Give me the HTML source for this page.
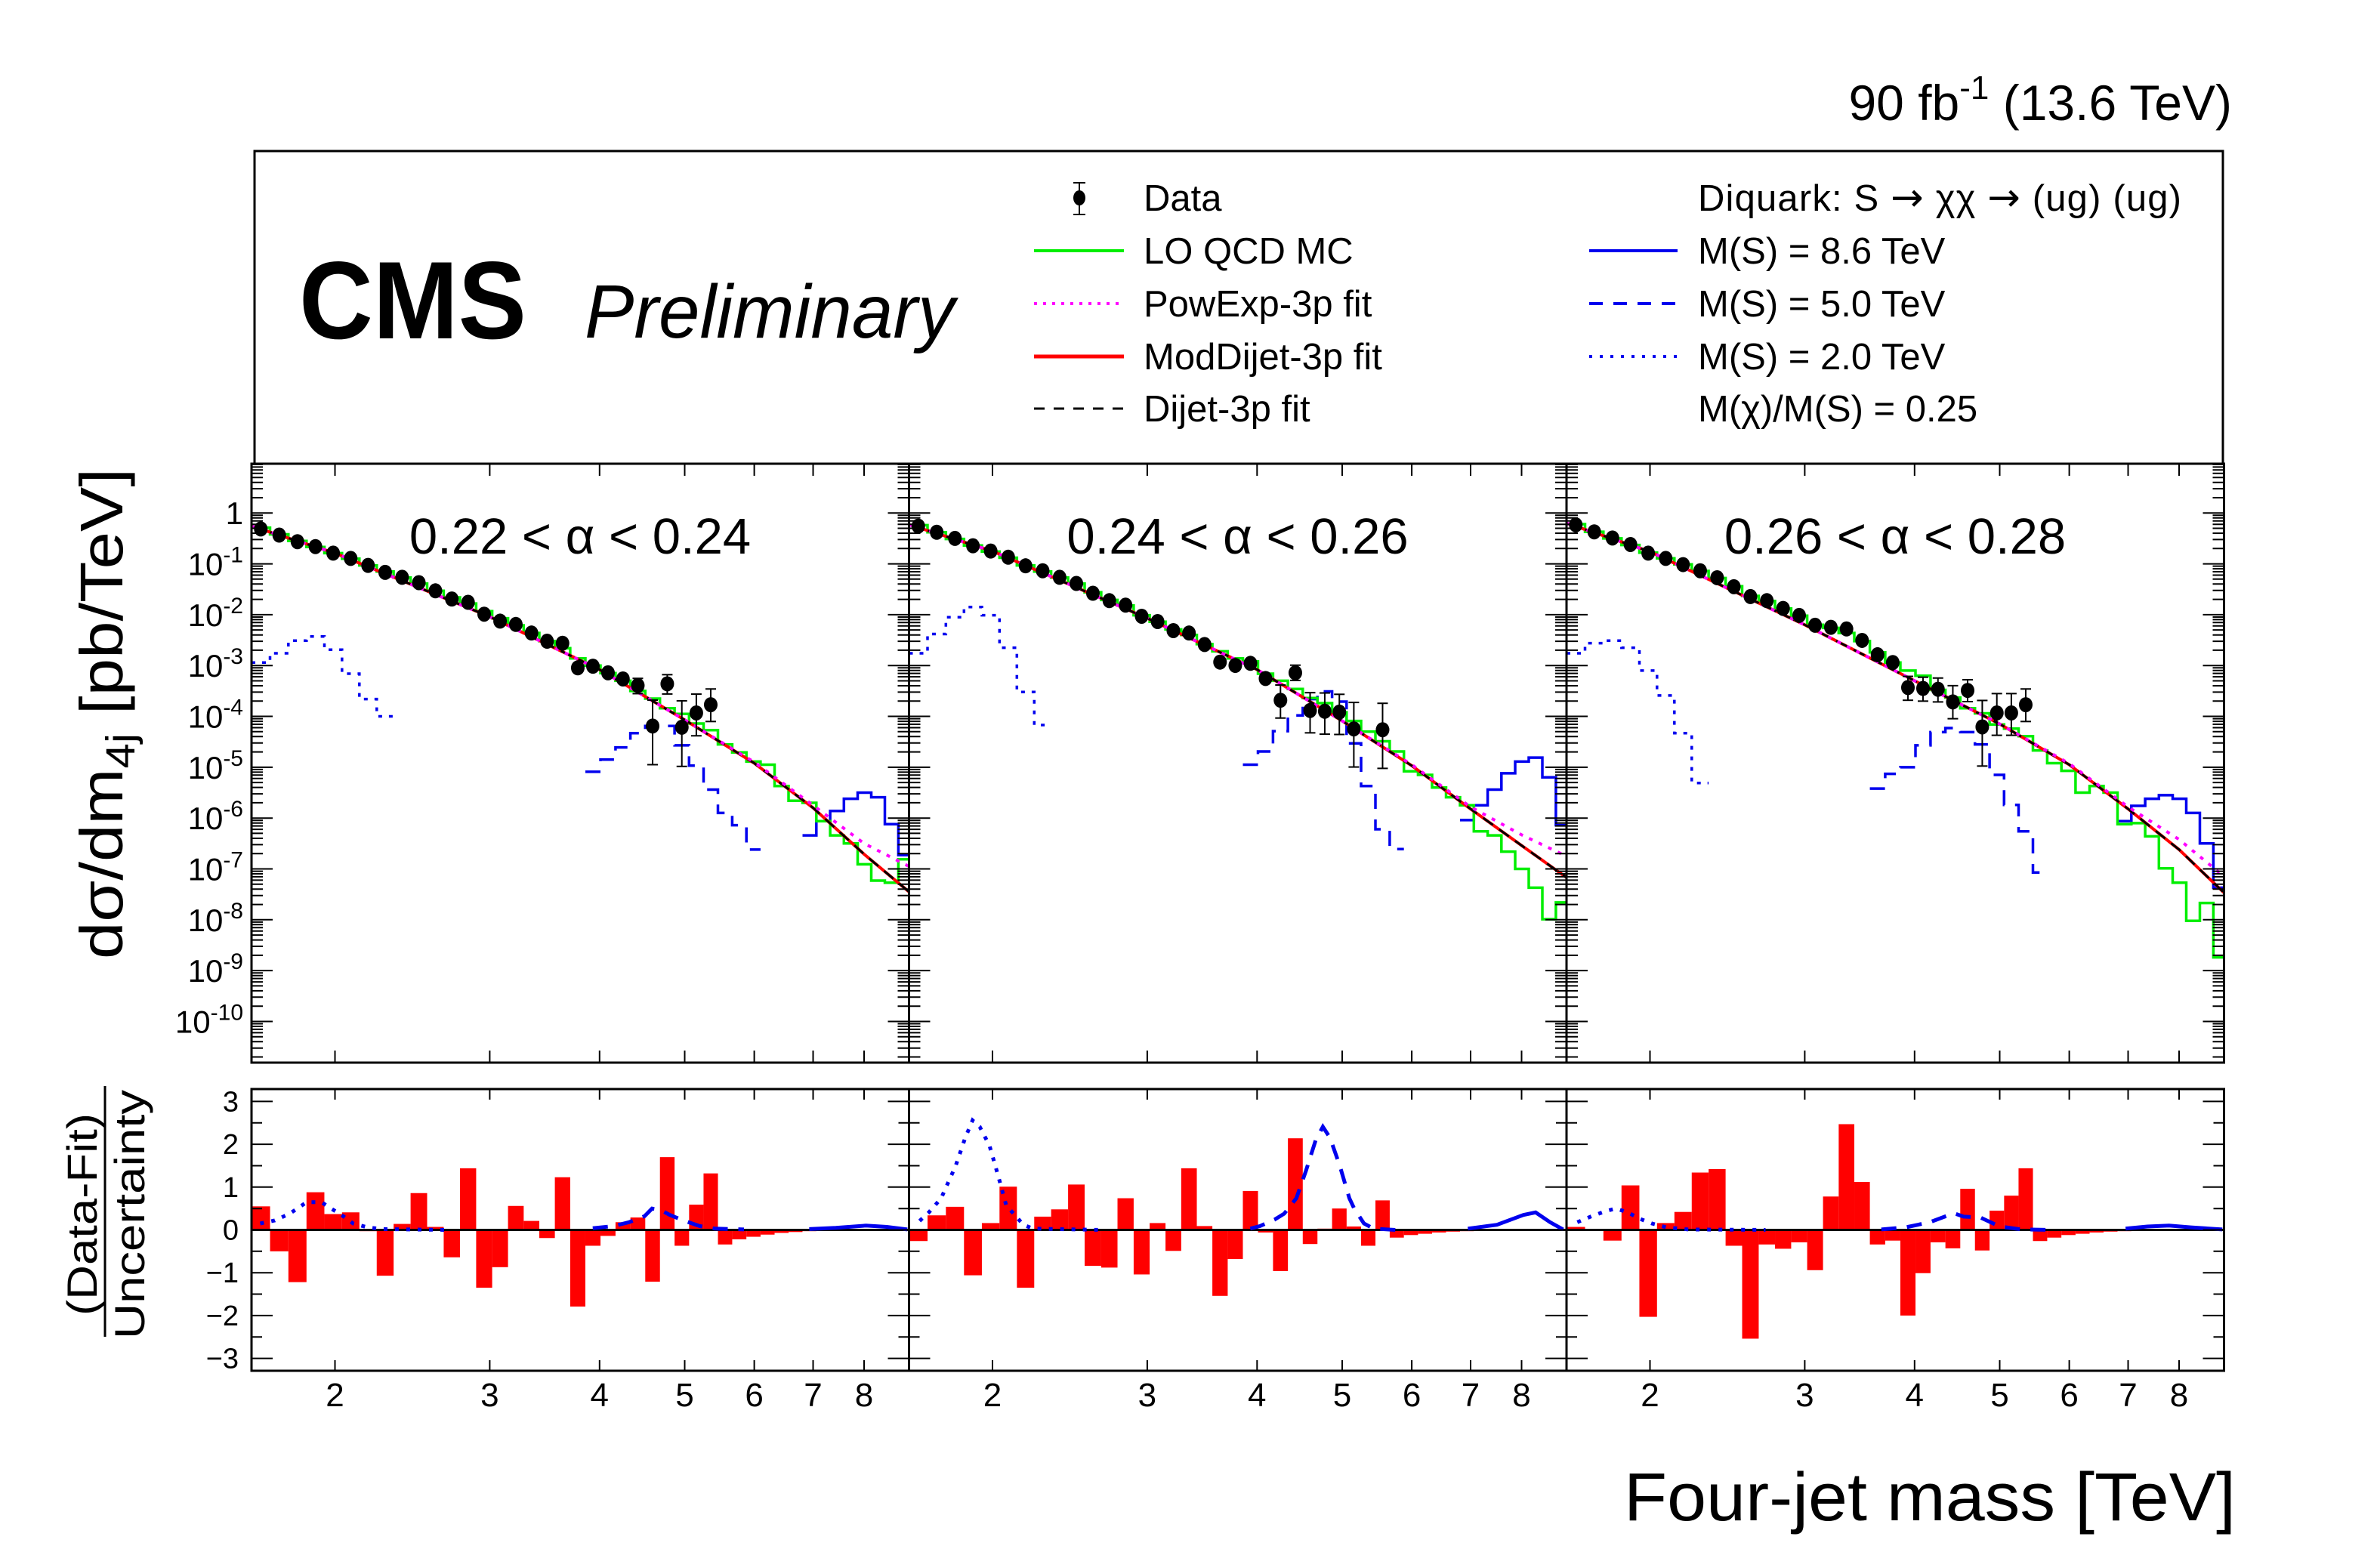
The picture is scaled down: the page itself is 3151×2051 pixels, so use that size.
<!DOCTYPE html>
<html><head><meta charset="utf-8"><title>CMS four-jet mass</title>
<style>
html,body{margin:0;padding:0;background:#fff;}
svg{display:block;font-family:"Liberation Sans",Arial,sans-serif;}
</style></head>
<body>
<svg id="chart" xmlns="http://www.w3.org/2000/svg" width="3151" height="2051" viewBox="0 0 3151 2051">
<rect x="0" y="0" width="3151" height="2051" fill="#fff"/>
<text x="2955" y="159" font-size="66" text-anchor="end">90 fb<tspan dy="-28" font-size="44">-1</tspan><tspan dy="28"> (13.6 TeV)</tspan></text>
<rect x="337" y="200" width="2606" height="414" fill="none" stroke="#000" stroke-width="3"/>
<text x="396" y="448" font-size="146" font-weight="bold" textLength="301" lengthAdjust="spacingAndGlyphs">CMS</text>
<text x="774" y="447" font-size="100" font-style="italic" textLength="490" lengthAdjust="spacingAndGlyphs">Preliminary</text>
<g font-size="49">
  <g>
    <line x1="1429" y1="242" x2="1429" y2="284" stroke="#000" stroke-width="2"/>
    <line x1="1421" y1="242" x2="1437" y2="242" stroke="#000" stroke-width="2"/>
    <line x1="1421" y1="284" x2="1437" y2="284" stroke="#000" stroke-width="2"/>
    <ellipse cx="1429" cy="262" rx="8" ry="10" fill="#000"/>
    <text x="1514" y="279">Data</text>
  </g>
  <g>
    <line x1="1369" y1="332" x2="1488" y2="332" stroke="#00ee00" stroke-width="4"/>
    <text x="1514" y="349">LO QCD MC</text>
  </g>
  <g>
    <line x1="1369" y1="402" x2="1488" y2="402" stroke="#ff00ff" stroke-width="4" stroke-dasharray="4 8"/>
    <text x="1514" y="419">PowExp-3p fit</text>
  </g>
  <g>
    <line x1="1369" y1="472" x2="1488" y2="472" stroke="#ff0000" stroke-width="5"/>
    <text x="1514" y="489">ModDijet-3p fit</text>
  </g>
  <g>
    <line x1="1369" y1="541" x2="1488" y2="541" stroke="#000" stroke-width="3" stroke-dasharray="14 12"/>
    <text x="1514" y="558">Dijet-3p fit</text>
  </g>
</g>
<g font-size="49">
  <text x="2248" y="279" textLength="640" lengthAdjust="spacing">Diquark: S <tspan font-family="DejaVu Sans" font-size="52">→</tspan> χχ <tspan font-family="DejaVu Sans" font-size="52">→</tspan> (ug) (ug)</text>
  <g>
    <line x1="2104" y1="332" x2="2221" y2="332" stroke="#0000ee" stroke-width="4"/>
    <text x="2248" y="349">M(S) = 8.6 TeV</text>
  </g>
  <g>
    <line x1="2104" y1="402" x2="2221" y2="402" stroke="#0000ee" stroke-width="4" stroke-dasharray="18 14"/>
    <text x="2248" y="419">M(S) = 5.0 TeV</text>
  </g>
  <g>
    <line x1="2104" y1="472" x2="2221" y2="472" stroke="#0000ee" stroke-width="4" stroke-dasharray="4 10"/>
    <text x="2248" y="489">M(S) = 2.0 TeV</text>
  </g>
  <text x="2248" y="558">M(χ)/M(S) = 0.25</text>
</g>
<text transform="translate(162,945) rotate(-90)" font-size="80" text-anchor="middle" textLength="650" lengthAdjust="spacingAndGlyphs">dσ/dm<tspan dy="16" font-size="54">4j</tspan><tspan dy="-16"> [pb/TeV]</tspan></text>
<g font-size="56">
  <text transform="translate(128,1608) rotate(-90)" text-anchor="middle" textLength="268" lengthAdjust="spacingAndGlyphs">(Data-Fit)</text>
  <line x1="139" y1="1438" x2="139" y2="1770" stroke="#000" stroke-width="3"/>
  <text transform="translate(191,1608) rotate(-90)" text-anchor="middle" textLength="330" lengthAdjust="spacingAndGlyphs">Uncertainty</text>
</g>
<text x="2150" y="2013" font-size="90" textLength="810" lengthAdjust="spacingAndGlyphs">Four-jet mass [TeV]</text>
<g id="plots"></g>
</svg>
<script>
// ---- binning (TeV) ----
const binEdges = [1.607,1.687,1.770,1.856,1.945,2.037,2.132,2.231,2.332,2.438,2.546,2.659,2.775,2.895,3.019,3.147,3.279,3.416,3.558,3.704,3.854,4.010,4.171,4.337,4.509,4.686,4.869,5.058,5.253,5.455,5.663,5.877,6.099,6.328,6.564,6.808,7.060,7.320,7.589,7.866,8.152,8.447,8.752,9.067];
const panelTitles = ["0.22 < α < 0.24","0.24 < α < 0.26","0.26 < α < 0.28"];
const xTickValues = [2,3,4,5,6,7,8];
const xTickLabels = ["2","3","4","5","6","7","8"];
const yDecades = [0,-1,-2,-3,-4,-5,-6,-7,-8,-9,-10];
const ratioTicks = [3,2,1,0,-1,-2,-3];
const ratioTickLabels = ["3","2","1","0","−1","−2","−3"];
// ---- data (log10 pb/TeV) ----
const p1DataBins = [1,2,3,4,5,6,7,8,9,10,11,12,13,14,15,16,17,18,19,20,21,22,23,24,25,26,27,28,29];
const p1Data = [-0.314,-0.435,-0.564,-0.661,-0.790,-0.894,-1.031,-1.168,-1.265,-1.370,-1.531,-1.692,-1.757,-1.990,-2.127,-2.192,-2.361,-2.522,-2.562,-3.046,-3.014,-3.143,-3.264,-3.393,-4.190,-3.360,-4.214,-3.932,-3.771];
const p1ErrUp = [0.01,0.01,0.01,0.01,0.01,0.01,0.01,0.01,0.01,0.01,0.01,0.01,0.01,0.01,0.01,0.01,0.02,0.02,0.03,0.08,0.08,0.09,0.11,0.14,0.51,0.18,0.52,0.37,0.31];
const p1ErrDn = [0.01,0.01,0.01,0.01,0.01,0.01,0.01,0.01,0.01,0.01,0.01,0.01,0.01,0.01,0.01,0.01,0.02,0.02,0.03,0.09,0.09,0.10,0.12,0.16,0.76,0.20,0.77,0.45,0.33];
const p2DataBins = [1,2,3,4,5,6,7,8,9,10,11,12,13,14,15,16,17,18,19,20,21,22,23,24,25,26,27,28,30];
const p2Data = [-0.258,-0.379,-0.500,-0.645,-0.749,-0.870,-1.039,-1.136,-1.265,-1.386,-1.579,-1.724,-1.813,-2.031,-2.135,-2.313,-2.361,-2.587,-2.933,-2.998,-2.957,-3.255,-3.683,-3.143,-3.884,-3.900,-3.916,-4.246,-4.263];
const p2ErrUp = [0.01,0.01,0.01,0.01,0.01,0.01,0.01,0.01,0.01,0.01,0.01,0.01,0.01,0.01,0.01,0.01,0.02,0.02,0.05,0.06,0.07,0.09,0.30,0.15,0.35,0.36,0.35,0.52,0.52];
const p2ErrDn = [0.01,0.01,0.01,0.01,0.01,0.01,0.01,0.01,0.01,0.01,0.01,0.01,0.01,0.01,0.01,0.01,0.02,0.02,0.05,0.06,0.07,0.10,0.35,0.15,0.44,0.45,0.44,0.75,0.76];
const p3DataBins = [1,2,3,4,5,6,7,8,9,10,11,12,13,14,15,16,17,18,19,20,21,22,23,24,25,26,27,28,29];
const p3Data = [-0.234,-0.371,-0.492,-0.620,-0.790,-0.894,-1.015,-1.136,-1.273,-1.450,-1.644,-1.724,-1.877,-2.015,-2.208,-2.248,-2.281,-2.506,-2.788,-2.941,-3.433,-3.450,-3.466,-3.716,-3.490,-4.207,-3.932,-3.932,-3.771];
const p3ErrUp = [0.01,0.01,0.01,0.01,0.01,0.01,0.01,0.01,0.01,0.01,0.01,0.01,0.01,0.01,0.01,0.01,0.02,0.02,0.04,0.05,0.22,0.22,0.22,0.32,0.21,0.52,0.38,0.38,0.31];
const p3ErrDn = [0.01,0.01,0.01,0.01,0.01,0.01,0.01,0.01,0.01,0.01,0.01,0.01,0.01,0.01,0.01,0.01,0.02,0.02,0.04,0.05,0.25,0.25,0.25,0.33,0.22,0.77,0.44,0.44,0.33];
// ---- LO QCD MC (per bin, log10) ----
const p1Qcd = [-0.29,-0.42,-0.55,-0.67,-0.79,-0.90,-1.03,-1.15,-1.27,-1.39,-1.53,-1.66,-1.78,-1.93,-2.07,-2.21,-2.36,-2.52,-2.66,-2.86,-3.00,-3.15,-3.30,-3.50,-3.65,-3.84,-3.95,-4.14,-4.27,-4.55,-4.71,-4.89,-4.95,-5.37,-5.66,-5.70,-6.06,-6.34,-6.50,-6.91,-7.23,-7.27,-6.81];
const p2Qcd = [-0.24,-0.38,-0.51,-0.64,-0.76,-0.88,-1.03,-1.15,-1.27,-1.39,-1.56,-1.71,-1.82,-2.01,-2.14,-2.29,-2.40,-2.58,-2.72,-2.86,-2.92,-3.16,-3.30,-3.46,-3.64,-3.74,-3.92,-4.09,-4.30,-4.49,-4.69,-5.08,-5.15,-5.40,-5.59,-5.75,-6.26,-6.34,-6.66,-7.00,-7.37,-7.99,-7.66];
const p3Qcd = [-0.22,-0.37,-0.50,-0.63,-0.78,-0.89,-1.01,-1.14,-1.28,-1.44,-1.63,-1.73,-1.88,-2.02,-2.20,-2.26,-2.36,-2.52,-2.74,-2.94,-3.10,-3.20,-3.48,-3.63,-3.84,-3.94,-4.16,-4.24,-4.39,-4.67,-4.92,-5.07,-5.50,-5.37,-5.50,-6.12,-6.10,-6.36,-6.99,-7.27,-8.02,-7.67,-8.74];
// ---- fits ----
const fitMass = [1.607,2,3,4,5,6,7,8,9];
const p1ModDijet = [-0.26,-0.79,-2.04,-3.08,-4.07,-4.92,-5.80,-6.71,-7.45];
const p1PowExp = [-0.26,-0.79,-2.04,-3.08,-4.07,-4.90,-5.75,-6.50,-6.95];
const p2ModDijet = [-0.23,-0.75,-2.07,-3.08,-4.09,-4.97,-5.82,-6.54,-7.17];
const p2PowExp = [-0.23,-0.75,-2.07,-3.08,-4.09,-4.95,-5.78,-6.33,-6.75];
const p3ModDijet = [-0.20,-0.76,-2.20,-3.30,-4.15,-4.95,-5.82,-6.62,-7.47];
const p3PowExp = [-0.20,-0.76,-2.20,-3.30,-4.15,-4.93,-5.78,-6.42,-7.15];
// ---- signals (start bin + per-bin log10) ----
const p1Sig2Start = 1, p1Sig2 = [-2.94,-2.76,-2.51,-2.43,-2.69,-3.16,-3.66,-4.00];
const p1Sig5Start = 21, p1Sig5 = [-5.09,-4.85,-4.61,-4.33,-4.19,-4.19,-4.57,-4.97,-5.44,-5.90,-6.14,-6.62];
const p1Sig86Start = 36, p1Sig86 = [-6.34,-6.06,-5.86,-5.62,-5.50,-5.59,-6.12,-6.73];
const p2Sig2Start = 1, p2Sig2 = [-2.76,-2.38,-2.05,-1.85,-2.01,-2.65,-3.52,-4.17];
const p2Sig5Start = 21, p2Sig5 = [-4.95,-4.69,-4.29,-3.98,-3.66,-3.51,-3.71,-4.53,-5.37,-6.22,-6.61];
const p2Sig86Start = 36, p2Sig86 = [-6.04,-5.75,-5.44,-5.12,-4.89,-4.81,-5.20,-6.14];
const p3Sig2Start = 1, p3Sig2 = [-2.76,-2.56,-2.51,-2.65,-3.10,-3.59,-4.33,-5.31];
const p3Sig5Start = 19, p3Sig5 = [-5.42,-5.13,-5.00,-4.57,-4.31,-4.23,-4.31,-4.55,-5.15,-5.74,-6.26,-7.07];
const p3Sig86Start = 36, p3Sig86 = [-6.06,-5.76,-5.62,-5.55,-5.62,-5.90,-6.50,-7.37];
// ---- pulls ----
const p1Pull = [0.55,-0.50,-1.22,0.88,0.37,0.41,-0.03,-1.07,0.14,0.86,0.07,-0.64,1.44,-1.35,-0.87,0.56,0.21,-0.19,1.23,-1.79,-0.37,-0.14,0.18,0.29,-1.21,1.70,-0.37,0.59,1.32,-0.34,-0.22,-0.16,-0.11,-0.07,-0.05,-0.03,-0.02,-0.01,-0.01,0,0,0,0];
const p2Pull = [-0.26,0.34,0.54,-1.06,0.16,1.01,-1.35,0.31,0.48,1.06,-0.84,-0.88,0.74,-1.04,0.16,-0.49,1.44,0.09,-1.54,-0.68,0.91,-0.06,-0.96,2.14,-0.33,0.03,0.50,0.08,-0.37,0.69,-0.18,-0.12,-0.09,-0.06,-0.04,-0.03,-0.02,-0.01,0,0,0,0,0];
const p3Pull = [0.07,-0.02,-0.25,1.04,-2.03,0.16,0.42,1.34,1.42,-0.37,-2.54,-0.34,-0.44,-0.29,-0.94,0.78,2.47,1.12,-0.34,-0.25,-2.0,-1.01,-0.29,-0.43,0.96,-0.48,0.45,0.80,1.44,-0.26,-0.18,-0.12,-0.09,-0.06,-0.04,-0.03,-0.02,-0.01,-0.01,0,0,0,0];
// ---- signal curves in ratio ----
const p1R2Mass = [1.644,1.708,1.776,1.857,1.930,1.980,2.044,2.097,2.178,2.262,2.68];
const p1R2Val = [0.15,0.22,0.38,0.65,0.65,0.50,0.32,0.15,0.06,0.02,0];
const p1R5Mass = [3.93,4.15,4.32,4.50,4.59,4.69,4.81,5.0,5.2,5.41,5.84];
const p1R5Val = [0.04,0.09,0.18,0.32,0.50,0.47,0.35,0.21,0.09,0.03,0.01];
const p1R86Mass = [6.93,7.43,8.04,8.49,8.96];
const p1R86Val = [0.02,0.05,0.10,0.07,0.01];
const p2R2Mass = [1.652,1.693,1.748,1.816,1.862,1.898,1.934,1.984,2.030,2.074,2.114,2.168,2.223,2.655];
const p2R2Val = [0.21,0.41,0.74,1.50,2.15,2.56,2.41,1.97,1.26,0.56,0.38,0.12,0.03,0];
const p2R5Mass = [3.930,4.031,4.187,4.295,4.434,4.547,4.663,4.753,4.843,4.968,5.095,5.160,5.293,5.429,5.747];
const p2R5Val = [0.03,0.09,0.24,0.38,0.74,1.38,2.09,2.41,2.15,1.50,0.74,0.50,0.15,0.03,0];
const p2R86Mass = [6.950,7.500,8.040,8.300,8.620,8.92];
const p2R86Val = [0.03,0.12,0.35,0.41,0.18,0.01];
const p3R2Mass = [1.653,1.716,1.782,1.828,1.887,1.947,2.010,2.088,2.210,2.707];
const p3R2Val = [0.18,0.32,0.44,0.50,0.41,0.26,0.15,0.06,0.01,0];
const p3R5Mass = [3.667,3.908,4.163,4.435,4.549,4.756,4.846,5.002,5.295,5.787];
const p3R5Val = [0.01,0.06,0.18,0.39,0.31,0.29,0.21,0.08,0.01,0];
const p3R86Mass = [6.954,7.362,7.793,8.250,8.96];
const p3R86Val = [0.03,0.08,0.10,0.06,0.01];

// ---- layout ----
const NS = 'http://www.w3.org/2000/svg';
const PANEL_LEFT = [333, 1203.5, 2074];
const PANEL_W = 870.5;
const XMIN = 1.607, XMAX = 9.0;
const TOP_Y0 = 614, TOP_Y1 = 1407, LOG_MAX = 0.969, LOG_MIN = -10.81;
const RAT_Y0 = 1442, RAT_Y1 = 1815, RAT_MAX = 3.29, RAT_MIN = -3.29;

function xPix(p, m) { return PANEL_LEFT[p] + PANEL_W * Math.log(m / XMIN) / Math.log(XMAX / XMIN); }
function yTop(v) { return TOP_Y0 + (LOG_MAX - v) / (LOG_MAX - LOG_MIN) * (TOP_Y1 - TOP_Y0); }
function yRat(v) { return RAT_Y0 + (RAT_MAX - v) / (RAT_MAX - RAT_MIN) * (RAT_Y1 - RAT_Y0); }
function mk(tag, parent) { const e = document.createElementNS(NS, tag); parent.appendChild(e); return e; }
function setA(e, o) { for (const k in o) e.setAttribute(k, o[k]); }

const root = document.getElementById('plots');
const defs = mk('defs', root);

const panels = [
  {data: p1Data, bins: p1DataBins, eu: p1ErrUp, ed: p1ErrDn, qcd: p1Qcd, mod: p1ModDijet, pow: p1PowExp,
   s2: [p1Sig2Start, p1Sig2], s5: [p1Sig5Start, p1Sig5], s86: [p1Sig86Start, p1Sig86], pull: p1Pull,
   r2: [p1R2Mass, p1R2Val], r5: [p1R5Mass, p1R5Val], r86: [p1R86Mass, p1R86Val]},
  {data: p2Data, bins: p2DataBins, eu: p2ErrUp, ed: p2ErrDn, qcd: p2Qcd, mod: p2ModDijet, pow: p2PowExp,
   s2: [p2Sig2Start, p2Sig2], s5: [p2Sig5Start, p2Sig5], s86: [p2Sig86Start, p2Sig86], pull: p2Pull,
   r2: [p2R2Mass, p2R2Val], r5: [p2R5Mass, p2R5Val], r86: [p2R86Mass, p2R86Val]},
  {data: p3Data, bins: p3DataBins, eu: p3ErrUp, ed: p3ErrDn, qcd: p3Qcd, mod: p3ModDijet, pow: p3PowExp,
   s2: [p3Sig2Start, p3Sig2], s5: [p3Sig5Start, p3Sig5], s86: [p3Sig86Start, p3Sig86], pull: p3Pull,
   r2: [p3R2Mass, p3R2Val], r5: [p3R5Mass, p3R5Val], r86: [p3R86Mass, p3R86Val]}
];

function histPath(p, start, vals, yf) {
  let d = '';
  for (let i = 0; i < vals.length; i++) {
    const b = start - 1 + i;
    const x0 = xPix(p, binEdges[b]), x1 = xPix(p, Math.min(binEdges[b + 1], 9.3));
    const y = yf(vals[i]);
    d += (i === 0 ? 'M' + x0.toFixed(1) + ',' + y.toFixed(1) : 'V' + y.toFixed(1));
    d += 'H' + x1.toFixed(1);
  }
  return d;
}
function linePath(p, ms, vs, yf) {
  return ms.map((m, i) => (i ? 'L' : 'M') + xPix(p, m).toFixed(1) + ',' + yf(vs[i]).toFixed(1)).join('');
}

panels.forEach((P, p) => {
  const L = PANEL_LEFT[p], R = L + PANEL_W;
  const cp = mk('clipPath', defs);
  cp.setAttribute('id', 'clipTop' + p);
  const cr = mk('rect', cp);
  setA(cr, {x: L, y: TOP_Y0, width: PANEL_W, height: TOP_Y1 - TOP_Y0});
  const cp2 = mk('clipPath', defs);
  cp2.setAttribute('id', 'clipRat' + p);
  const cr2 = mk('rect', cp2);
  setA(cr2, {x: L, y: RAT_Y0, width: PANEL_W, height: RAT_Y1 - RAT_Y0});

  const g = mk('g', root);
  
  
  const gc = mk('g', g);
  gc.setAttribute('clip-path', 'url(#clipTop' + p + ')');
  
  

  const sigs = [[P.s2, '5 9', 'signal-2tev-hist'], [P.s5, '20 14', 'signal-5tev-hist'], [P.s86, 'none', 'signal-8p6tev-hist']];
  sigs.forEach(s => {
    const e = mk('path', gc);
    setA(e, {d: histPath(p, s[0][0], s[0][1], yTop), fill: 'none', stroke: '#0000ee', 'stroke-width': 3.5, 'stroke-dasharray': s[1]});
    
    
  });
  const q = mk('path', gc);
  setA(q, {d: histPath(p, 1, P.qcd, yTop), fill: 'none', stroke: '#00ee00', 'stroke-width': 3.5});
  
  
  const fr = mk('path', gc);
  setA(fr, {d: linePath(p, fitMass, P.mod, yTop), fill: 'none', stroke: '#ff0000', 'stroke-width': 4});
  
  
  const fb = mk('path', gc);
  setA(fb, {d: linePath(p, fitMass, P.mod, yTop), fill: 'none', stroke: '#000', 'stroke-width': 3, 'stroke-dasharray': '16 10'});
  
  
  const fp = mk('path', gc);
  setA(fp, {d: linePath(p, fitMass, P.pow, yTop), fill: 'none', stroke: '#ff00ff', 'stroke-width': 4, 'stroke-dasharray': '5 9'});
  
  
  P.data.forEach((v, i) => {
    const b = P.bins[i];
    const xc = xPix(p, Math.sqrt(binEdges[b - 1] * binEdges[b]));
    const pg = mk('g', gc);
    
    
    const yh = yTop(v + P.eu[i]), yl = yTop(v - P.ed[i]);
    if (yl - yh > 20) {
      const eb = mk('line', pg);
      setA(eb, {x1: xc, x2: xc, y1: yh, y2: yl, stroke: '#000', 'stroke-width': 2});
      const c1 = mk('line', pg);
      setA(c1, {x1: xc - 7, x2: xc + 7, y1: yh, y2: yh, stroke: '#000', 'stroke-width': 2});
      const c2 = mk('line', pg);
      setA(c2, {x1: xc - 7, x2: xc + 7, y1: yl, y2: yl, stroke: '#000', 'stroke-width': 2});
    }
    const c = mk('ellipse', pg);
    setA(c, {cx: xc, cy: yTop(v), rx: 9, ry: 10, fill: '#000'});
  });

  const t = mk('text', g);
  setA(t, {x: L + 435, y: 733, 'font-size': 67, 'text-anchor': 'middle'});
  t.textContent = panelTitles[p];
  
  

  const fr1 = mk('rect', g);
  setA(fr1, {x: L, y: TOP_Y0, width: PANEL_W, height: TOP_Y1 - TOP_Y0, fill: 'none', stroke: '#000', 'stroke-width': 3});
  
  

  const yt = mk('g', g);
  
  
  let td = '';
  for (let dcd = 1; dcd >= -11; dcd--) {
    for (let k = 1; k <= 9; k++) {
      const lv = dcd + Math.log10(k);
      if (lv > LOG_MAX || lv < LOG_MIN) continue;
      const y = yTop(lv).toFixed(1);
      const len = k === 1 ? 28 : 15;
      td += 'M' + L + ',' + y + 'h' + len + 'M' + R + ',' + y + 'h-' + len;
    }
  }
  const ytp = mk('path', yt);
  setA(ytp, {d: td, stroke: '#000', 'stroke-width': 2, fill: 'none'});

  let xd = '';
  xTickValues.forEach(m => {
    const x = xPix(p, m).toFixed(1);
    xd += 'M' + x + ',' + TOP_Y1 + 'v-16M' + x + ',' + TOP_Y0 + 'v16';
    xd += 'M' + x + ',' + RAT_Y1 + 'v-14M' + x + ',' + RAT_Y0 + 'v14';
  });
  const xtp = mk('path', g);
  setA(xtp, {d: xd, stroke: '#000', 'stroke-width': 2, fill: 'none'});
  
  

  const rg = mk('g', root);
  
  
  const rc = mk('g', rg);
  rc.setAttribute('clip-path', 'url(#clipRat' + p + ')');
  
  
  P.pull.forEach((v, i) => {
    const x0 = xPix(p, binEdges[i]), x1 = xPix(p, binEdges[i + 1]);
    const y0 = yRat(0), y1 = yRat(v);
    const r = mk('rect', rc);
    setA(r, {x: x0, y: Math.min(y0, y1), width: x1 - x0, height: Math.max(Math.abs(y1 - y0), 0.5), fill: '#ff0000'});
    
    
  });
  const zl = mk('line', rc);
  setA(zl, {x1: L, x2: R, y1: yRat(0), y2: yRat(0), stroke: '#000', 'stroke-width': 3});
  
  
  const rs = [[P.r2, '5 10', 'ratio-signal-2tev'], [P.r5, '20 14', 'ratio-signal-5tev'], [P.r86, 'none', 'ratio-signal-8p6tev']];
  rs.forEach(s => {
    const e = mk('path', rc);
    setA(e, {d: linePath(p, s[0][0], s[0][1], yRat), fill: 'none', stroke: '#0000ee', 'stroke-width': 5, 'stroke-dasharray': s[1]});
    
    
  });
  const fr2 = mk('rect', rg);
  setA(fr2, {x: L, y: RAT_Y0, width: PANEL_W, height: RAT_Y1 - RAT_Y0, fill: 'none', stroke: '#000', 'stroke-width': 3});
  
  
  let rd = '';
  for (let v = -3; v <= 3.001; v += 0.5) {
    const y = yRat(v).toFixed(1);
    const len = Math.abs(v - Math.round(v)) < 0.01 ? 28 : 14;
    rd += 'M' + L + ',' + y + 'h' + len + 'M' + R + ',' + y + 'h-' + len;
  }
  const rtp = mk('path', rg);
  setA(rtp, {d: rd, stroke: '#000', 'stroke-width': 2, fill: 'none'});
  
  

  xTickValues.forEach((m, i) => {
    const tl = mk('text', root);
    setA(tl, {x: xPix(p, m), y: 1862, 'font-size': 44, 'text-anchor': 'middle'});
    tl.textContent = xTickLabels[i];
    
    
  });
});

yDecades.forEach(dv => {
  const tl = mk('text', root);
  setA(tl, {x: 322, y: yTop(dv) + 15, 'font-size': 42, 'text-anchor': 'end'});
  if (dv === 0) { tl.textContent = '1'; }
  else {
    const a = mk('tspan', tl); a.textContent = '10';
    const b = mk('tspan', tl); setA(b, {dy: -17, 'font-size': 30}); b.textContent = String(dv);
  }
  
  
});
ratioTicks.forEach((v, i) => {
  const tl = mk('text', root);
  setA(tl, {x: 316, y: yRat(v) + 13, 'font-size': 38, 'text-anchor': 'end'});
  tl.textContent = ratioTickLabels[i];
  
  
});
</script>
</body></html>
